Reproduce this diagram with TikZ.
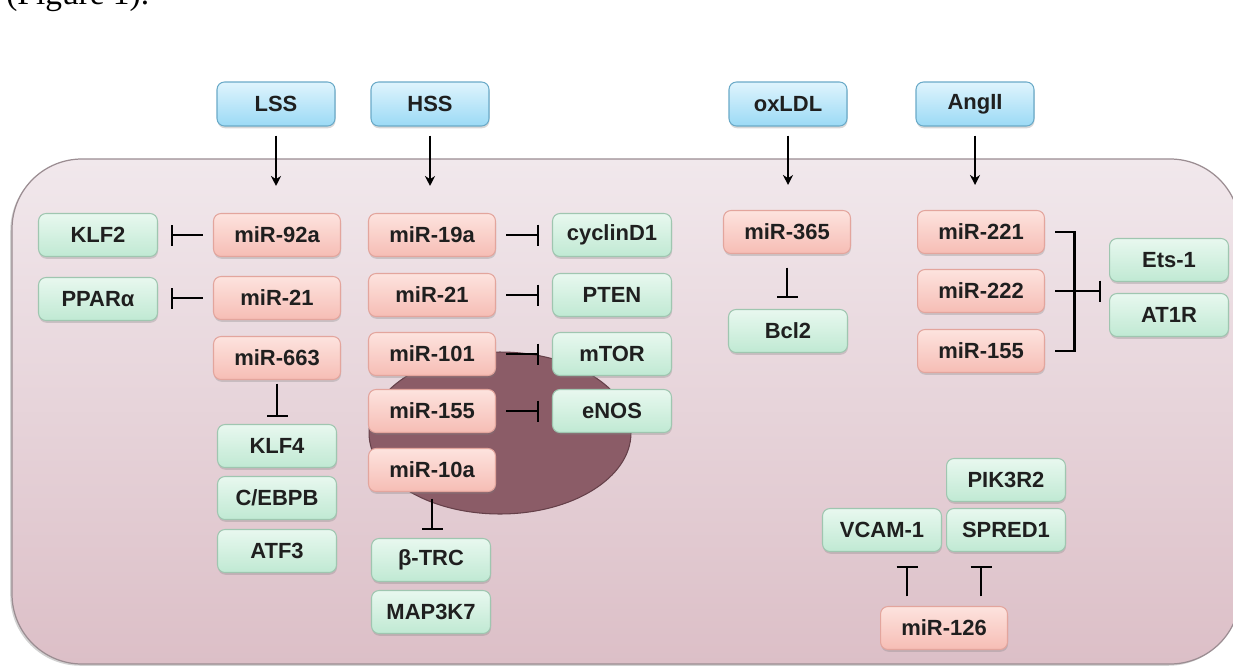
\documentclass[tikz,border=0pt]{standalone}
\usepackage{fontspec}
\setmainfont{Liberation Sans}
\newfontfamily\capfont{Liberation Serif}
\usetikzlibrary{arrows.meta,shadows,calc}
\definecolor{mirT}{HTML}{FDE3DE}
\definecolor{mirB}{HTML}{F6BDB5}
\definecolor{mirD}{HTML}{E3A59D}
\definecolor{geneT}{HTML}{E8F8EF}
\definecolor{geneB}{HTML}{C0E9D3}
\definecolor{geneD}{HTML}{9FC6B0}
\definecolor{stimT}{HTML}{DFF4FD}
\definecolor{stimB}{HTML}{9BDAF5}
\definecolor{stimD}{HTML}{6AAAC8}
\definecolor{cellT}{HTML}{F1E8EC}
\definecolor{cellB}{HTML}{DCBFC7}
\definecolor{cellD}{HTML}{9B8D92}
\definecolor{nuc}{HTML}{8B5C67}
\definecolor{nucD}{HTML}{654049}
\begin{document}
\begin{tikzpicture}[x=0.02cm,y=-0.02cm,
  bx/.style={rectangle, rounded corners=0.15cm, minimum height=0.86cm, inner sep=0pt,
    font=\bfseries\fontsize{12.5}{14}\selectfont, text=black!88, line width=0.6pt,
    drop shadow={shadow xshift=0.3pt, shadow yshift=-1.3pt, opacity=0.3}},
  mir/.style={bx, minimum width=2.54cm, top color=mirT, bottom color=mirB, draw=mirD},
  gene/.style={bx, minimum width=2.38cm, top color=geneT, bottom color=geneB, draw=geneD},
  stim/.style={bx, minimum width=2.36cm, minimum height=0.88cm, top color=stimT, bottom color=stimB, draw=stimD},
  act/.style={-{Stealth[length=0.2cm,width=0.2cm]}, line width=1.2pt},
  inh/.style={-{Bar[width=0.42cm,line width=1.2pt]}, line width=1.2pt},
  brk/.style={line width=1.2pt},
]
\useasboundingbox (0,0) rectangle (1233,666);
\fill[white] (0,0) rectangle (1233,666);
\node[anchor=base west, inner sep=0pt, font=\capfont\fontsize{19}{21}\selectfont] (cap) at (6,5) {(Figure 1).};
% cell
\path[top color=cellT, bottom color=cellB, draw=cellD, line width=0.7pt,
  drop shadow={shadow xshift=-1pt, shadow yshift=-1pt, opacity=0.35}, rounded corners=1.4cm]
  (12,159) rectangle (1240,664);
% nucleus
\fill[nuc, draw=nucD, line width=0.6pt] (500,433) ellipse [x radius=2.62cm, y radius=1.62cm];
% stimuli
\node[stim] (lss) at (276,104) {LSS};
\node[stim] (hss) at (430,104) {HSS};
\node[stim] (oxldl) at (788,104) {oxLDL};
\node[stim] (angii) at (975,104) {AngII};
% LSS column
\node[mir] (m92a) at (277,235) {miR-92a};
\node[mir] (m21a) at (277,298) {miR-21};
\node[mir] (m663) at (277,358) {miR-663};
\node[gene] (klf2) at (98,235) {KLF2};
\node[gene] (ppara) at (98,299) {PPARα};
\node[gene] (klf4) at (277,446) {KLF4};
\node[gene] (cebpb) at (277,498) {C/EBPB};
\node[gene] (atf3) at (277,551) {ATF3};
% HSS column
\node[mir] (m19a) at (432,235) {miR-19a};
\node[mir] (m21b) at (432,295) {miR-21};
\node[mir] (m101) at (432,354) {miR-101};
\node[mir] (m155a) at (432,411) {miR-155};
\node[mir] (m10a) at (432,470) {miR-10a};
\node[gene] (ccnd1) at (612,235) {cyclinD1};
\node[gene] (pten) at (612,295) {PTEN};
\node[gene] (mtor) at (612,354) {mTOR};
\node[gene] (enos) at (612,411) {eNOS};
\node[gene] (btrc) at (431,560) {β-TRC};
\node[gene] (map3k7) at (431,612) {MAP3K7};
% oxLDL column
\node[mir] (m365) at (787,232) {miR-365};
\node[gene] (bcl2) at (788,331) {Bcl2};
% AngII column
\node[mir] (m221) at (981,232) {miR-221};
\node[mir] (m222) at (981,291) {miR-222};
\node[mir] (m155b) at (981,351) {miR-155};
\node[gene] (ets1) at (1169,260) {Ets-1};
\node[gene] (at1r) at (1169,315) {AT1R};
% miR-126 group
\node[gene] (pik3r2) at (1006,480) {PIK3R2};
\node[gene] (vcam1) at (882,530) {VCAM-1};
\node[gene] (spred1) at (1006,530) {SPRED1};
\node[mir] (m126) at (944,628) {miR-126};
% activation arrows
\draw[act, shorten <=0.18cm, shorten >=0.54cm] (lss.south) -- (lss.south |- m92a.north);
\draw[act, shorten <=0.18cm, shorten >=0.54cm] (hss.south) -- (hss.south |- m19a.north);
\draw[act, shorten <=0.18cm, shorten >=0.5cm] (oxldl.south) -- (oxldl.south |- m365.north);
\draw[act, shorten <=0.18cm, shorten >=0.5cm] (angii.south) -- (angii.south |- m221.north);
% inhibitions, LSS
\draw[inh, shorten <=0.2cm, shorten >=0.26cm] (m92a.west) -- (m92a.west -| klf2.east);
\draw[inh, shorten <=0.2cm, shorten >=0.26cm] (m21a.west) -- (m21a.west -| ppara.east);
\draw[inh, shorten <=0.07cm, shorten >=0.13cm] (m663.south) -- (m663.south |- klf4.north);
% inhibitions, HSS
\draw[inh, shorten <=0.2cm, shorten >=0.26cm] (m19a.east) -- (m19a.east -| ccnd1.west);
\draw[inh, shorten <=0.2cm, shorten >=0.26cm] (m21b.east) -- (m21b.east -| pten.west);
\draw[inh, shorten <=0.2cm, shorten >=0.26cm] (m101.east) -- (m101.east -| mtor.west);
\draw[inh, shorten <=0.2cm, shorten >=0.26cm] (m155a.east) -- (m155a.east -| enos.west);
\draw[inh, shorten <=0.13cm, shorten >=0.15cm] (m10a.south) -- (m10a.south |- btrc.north);
% oxLDL
\draw[inh, shorten <=0.27cm, shorten >=0.21cm] (m365.south) -- (m365.south |- bcl2.north);
% AngII bracket
\draw[brk] ([xshift=0.2cm]m221.east) -- ++(0.39cm,0) |- ([xshift=0.2cm]m155b.east);
\draw[inh, shorten <=0.2cm, shorten >=0.16cm] (m222.east) -- (m222.east -| ets1.west);
% miR-126
\draw[inh, shorten <=0.19cm, shorten >=0.27cm] ([xshift=-0.74cm]m126.north) -- ([xshift=-0.74cm]m126.north |- vcam1.south);
\draw[inh, shorten <=0.19cm, shorten >=0.27cm] ([xshift=0.74cm]m126.north) -- ([xshift=0.74cm]m126.north |- spred1.south);
\end{tikzpicture}
\end{document}
